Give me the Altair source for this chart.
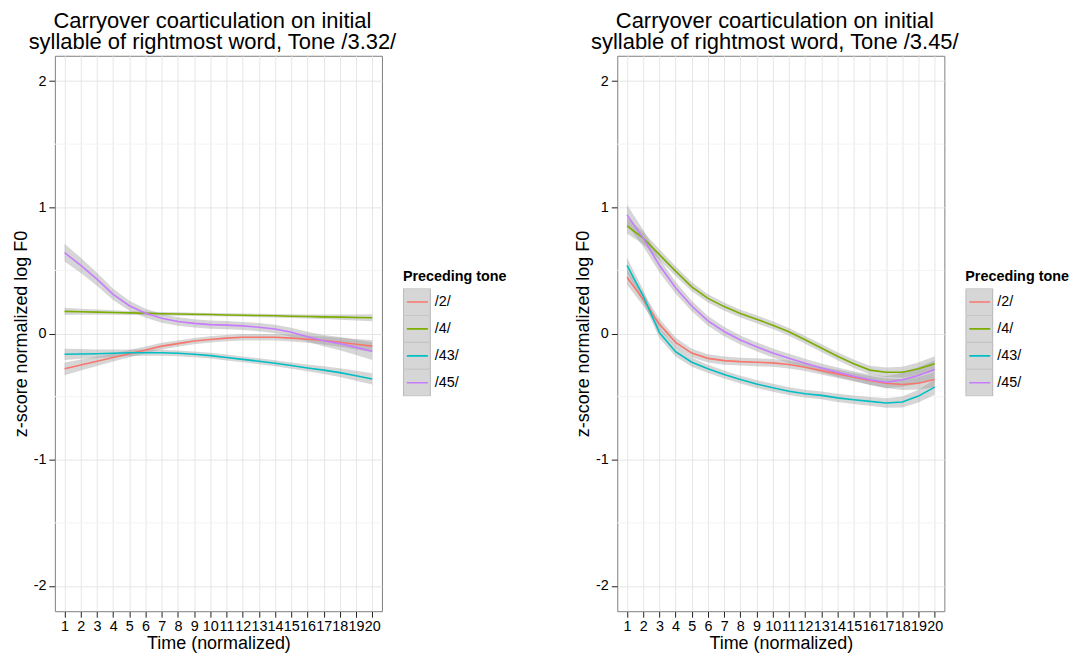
import altair as alt
import pandas as pd

# ---------------- data ----------------
time_points = [1, 2, 3, 4, 5, 6, 7, 8, 9, 10, 11, 12, 13, 14, 15, 16, 17, 18, 19, 20]
tones = ["/2/", "/4/", "/43/", "/45/"]
tone_colors = ["#F8766D", "#7CAE00", "#00BFC4", "#C77CFF"]
y_ticks = [-2, -1, 0, 1, 2]
y_minor = [-1.5, -0.5, 0.5, 1.5]

# Panel 1: Tone /3.32/
p1_t2 = [-0.28, -0.25, -0.22, -0.19, -0.16, -0.13, -0.10, -0.08, -0.06, -0.047,
         -0.037, -0.03, -0.03, -0.03, -0.037, -0.045, -0.055, -0.07, -0.085, -0.10]
p1_t4 = [0.175, 0.172, 0.169, 0.166, 0.163, 0.160, 0.157, 0.155, 0.152, 0.150,
         0.147, 0.145, 0.142, 0.140, 0.137, 0.135, 0.132, 0.130, 0.127, 0.125]
p1_t43 = [-0.165, -0.162, -0.16, -0.156, -0.153, -0.152, -0.153, -0.157, -0.165, -0.175,
          -0.19, -0.205, -0.22, -0.236, -0.254, -0.273, -0.29, -0.31, -0.335, -0.36]
p1_t45 = [0.64, 0.54, 0.43, 0.31, 0.22, 0.16, 0.12, 0.095, 0.08, 0.07,
          0.066, 0.06, 0.05, 0.035, 0.01, -0.026, -0.057, -0.08, -0.11, -0.14]
p1_se2 = [0.05, 0.043, 0.037, 0.032, 0.029, 0.027, 0.026, 0.025, 0.025, 0.025,
          0.025, 0.025, 0.025, 0.026, 0.027, 0.029, 0.032, 0.036, 0.041, 0.048]
p1_se4 = [0.028, 0.024, 0.021, 0.018, 0.016, 0.015, 0.014, 0.014, 0.013, 0.013,
          0.013, 0.013, 0.014, 0.014, 0.015, 0.016, 0.018, 0.021, 0.024, 0.028]
p1_se43 = [0.045, 0.039, 0.034, 0.03, 0.027, 0.025, 0.024, 0.023, 0.023, 0.023,
           0.023, 0.023, 0.023, 0.024, 0.025, 0.027, 0.03, 0.034, 0.039, 0.045]
p1_se45 = [0.07, 0.06, 0.052, 0.045, 0.04, 0.036, 0.034, 0.033, 0.032, 0.032,
           0.032, 0.032, 0.033, 0.034, 0.036, 0.04, 0.045, 0.052, 0.06, 0.07]

# Panel 2: Tone /3.45/
p2_t2 = [0.446, 0.27, 0.074, -0.07, -0.155, -0.197, -0.215, -0.223, -0.228, -0.233,
         -0.246, -0.267, -0.294, -0.32, -0.346, -0.372, -0.394, -0.404, -0.394, -0.365]
p2_t4 = [0.853, 0.756, 0.625, 0.494, 0.37, 0.278, 0.213, 0.158, 0.113, 0.066,
         0.013, -0.05, -0.115, -0.18, -0.24, -0.29, -0.307, -0.307, -0.28, -0.24]
p2_t43 = [0.54, 0.297, 0.008, -0.144, -0.228, -0.28, -0.325, -0.365, -0.40, -0.43,
          -0.457, -0.477, -0.49, -0.51, -0.525, -0.538, -0.551, -0.543, -0.496, -0.425]
p2_t45 = [0.94, 0.756, 0.54, 0.362, 0.218, 0.10, 0.016, -0.052, -0.105, -0.155,
          -0.197, -0.236, -0.273, -0.307, -0.338, -0.367, -0.386, -0.367, -0.333, -0.286]
p2_se2 = [0.06, 0.05, 0.043, 0.038, 0.035, 0.033, 0.032, 0.031, 0.031, 0.031,
          0.031, 0.031, 0.031, 0.032, 0.033, 0.035, 0.038, 0.043, 0.05, 0.06]
p2_se4 = [0.06, 0.05, 0.043, 0.038, 0.035, 0.033, 0.032, 0.031, 0.031, 0.031,
          0.031, 0.031, 0.031, 0.032, 0.033, 0.035, 0.038, 0.043, 0.05, 0.06]
p2_se43 = [0.06, 0.05, 0.043, 0.038, 0.035, 0.033, 0.032, 0.031, 0.031, 0.031,
           0.031, 0.031, 0.031, 0.032, 0.033, 0.035, 0.038, 0.043, 0.05, 0.06]
p2_se45 = [0.08, 0.066, 0.055, 0.047, 0.042, 0.039, 0.037, 0.036, 0.036, 0.036,
           0.036, 0.036, 0.036, 0.037, 0.039, 0.042, 0.047, 0.055, 0.066, 0.075]

titles = [
    ["Carryover coarticulation on initial", "syllable of rightmost word, Tone /3.32/"],
    ["Carryover coarticulation on initial", "syllable of rightmost word, Tone /3.45/"],
]

FONT = "Liberation Sans"


def make_df(series, ses):
    rows = []
    for tone, vals, se in zip(tones, series, ses):
        for t, v, s in zip(time_points, vals, se):
            rows.append({"time": t, "tone": tone, "y": v, "lo": v - s, "hi": v + s})
    return pd.DataFrame(rows)


def legend_params(**kw):
    base = dict(title="Preceding tone", orient="none", legendX=349, legendY=215,
                symbolSize=729, rowPadding=0, clipHeight=27, labelOffset=4,
                titlePadding=4, labelFontSize=14.4, titleFontSize=14.4,
                titleFontWeight="bold")
    base.update(kw)
    return alt.Legend(**base)


def panel(df, title_lines):
    xscale = alt.Scale(domain=[0.4, 20.6], nice=False, zero=False)
    yscale = alt.Scale(domain=[-2.2, 2.2], nice=False, zero=False)
    xaxis = alt.Axis(values=time_points, title="Time (normalized)", format="d",
                     grid=True, gridColor="#e6e6e6", domain=False,
                     tickColor="#222222", tickSize=6, labelColor="#000000",
                     labelFontSize=14.4, labelPadding=2, labelOverlap=False,
                     labelFlush=False, titleFontSize=18, titleFontWeight="normal",
                     titlePadding=2, titleColor="#000000")
    yaxis = alt.Axis(values=y_ticks, title="z-score normalized log F0",
                     labelExpr="datum.value < 0 ? '-' + abs(datum.value) : '' + datum.value",
                     grid=True, gridColor="#e6e6e6", domain=False,
                     tickColor="#222222", tickSize=6, labelColor="#000000",
                     labelFontSize=14.4, labelPadding=3, titleFontSize=18,
                     titleFontWeight="normal", titlePadding=3, titleColor="#000000")

    base = alt.Chart(df)
    minor = alt.Chart(pd.DataFrame({"m": y_minor})).mark_rule(
        color="#f4f4f4", strokeWidth=1).encode(y=alt.Y("m:Q", scale=yscale, axis=yaxis))
    band = base.mark_area(color="#999999", opacity=0.4).encode(
        x=alt.X("time:Q", scale=xscale, axis=xaxis),
        y=alt.Y("lo:Q", scale=yscale, axis=yaxis),
        y2="hi:Q",
        detail="tone:N",
    )
    boxes = base.transform_filter("false").mark_square().encode(
        fill=alt.Fill("tone:N", scale=alt.Scale(domain=tones, range=["#d6d6d6"] * 4),
                      legend=legend_params(symbolType="square",
                                           symbolStrokeColor="#b5b5b5",
                                           symbolStrokeWidth=1, symbolOpacity=1,
                                           titleColor="#000000", labelColor="#000000",
                                           zindex=0))
    )
    lines = base.mark_line(strokeWidth=1.6).encode(
        x=alt.X("time:Q", scale=xscale, axis=xaxis),
        y=alt.Y("y:Q", scale=yscale, axis=yaxis),
        color=alt.Color("tone:N", scale=alt.Scale(domain=tones, range=tone_colors),
                        legend=legend_params(symbolType="M-0.78,0H0.78",
                                             symbolStrokeWidth=1.6,
                                             titleColor="transparent",
                                             labelColor="transparent", zindex=1)),
    )
    return alt.layer(minor, band, boxes, lines).properties(
        width=328, height=557,
        title=alt.TitleParams(text=title_lines, fontSize=22, fontWeight="normal",
                              lineHeight=21, anchor="middle", frame="group",
                              dx=-6, offset=2, color="#000000", font=FONT),
    ).resolve_scale(color="independent", fill="independent")


df1 = make_df([p1_t2, p1_t4, p1_t43, p1_t45], [p1_se2, p1_se4, p1_se43, p1_se45])
df2 = make_df([p2_t2, p2_t4, p2_t43, p2_t45], [p2_se2, p2_se4, p2_se43, p2_se45])

chart = alt.hconcat(panel(df1, titles[0]), panel(df2, titles[1]), spacing=66).resolve_scale(
    color="independent", fill="independent"
).resolve_legend(color="independent", fill="independent").properties(
    padding={"left": 3, "top": 0, "right": 0, "bottom": 0}
).configure(font=FONT).configure_view(stroke="#7f7f7f", strokeWidth=1)

chart.save("out.html", embed_options={"renderer": "svg", "actions": False})
